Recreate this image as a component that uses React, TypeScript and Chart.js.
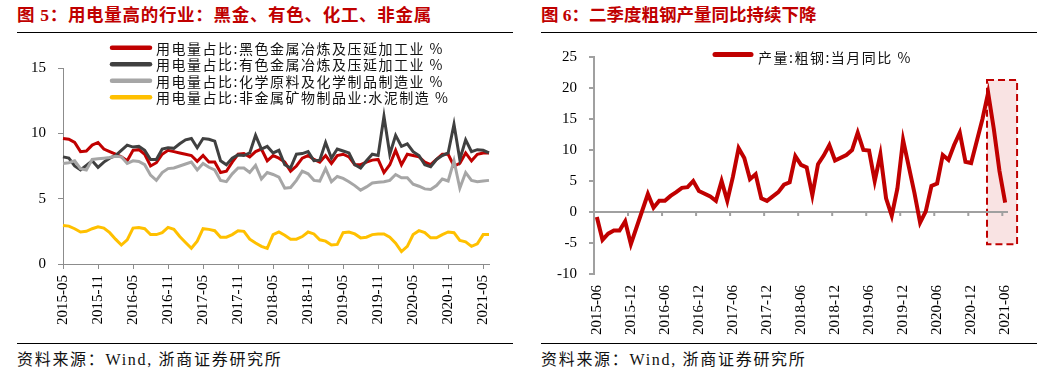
import React, { useEffect, useRef } from "react";
import { Chart, registerables } from "chart.js";

Chart.register(...registerables);

// ---------- data ----------
function monthRange(startYear: number, startMonth: number, count: number): string[] {
  const out: string[] = [];
  for (let k = 0; k < count; k++) {
    const m0 = startMonth - 1 + k;
    const y = startYear + Math.floor(m0 / 12);
    const m = (m0 % 12) + 1;
    out.push(`${y}-${m < 10 ? "0" + m : m}`);
  }
  return out;
}

const powerMonths = monthRange(2015, 5, 74); // 2015-05 .. 2021-06
const steelMonths = monthRange(2015, 6, 73); // 2015-06 .. 2021-06

const powerSeriesNames = [
  "用电量占比:黑色金属冶炼及压延加工业 %",
  "用电量占比:有色金属冶炼及压延加工业 %",
  "用电量占比:化学原料及化学制品制造业 %",
  "用电量占比:非金属矿物制品业:水泥制造 %",
];
const steelSeriesName = "产量:粗钢:当月同比 %";

const ferrousShare = [
  9.6, 9.55, 9.3, 8.6, 8.65, 9.1, 9.3, 8.8, 8.6, 8.4,
  8.2, 7.9, 8.7, 8.75, 8.4, 7.5, 7.75, 8.4, 8.7, 8.6,
  8.5, 8.4, 8.3, 7.85, 8.3, 7.8, 7.8, 7.0, 7.1, 7.8,
  8.4, 8.45, 8.2, 8.6, 8.8, 7.9, 8.3, 8.1, 7.8, 7.1,
  7.5, 8.1, 8.3, 8.0, 7.8, 8.3, 7.7, 8.3, 8.4, 8.2,
  7.6, 7.6, 7.8, 7.95, 8.0, 7.0, 7.6, 8.7, 7.6, 8.4,
  8.3, 8.2, 7.8, 7.6, 8.0, 8.4, 8.4, 7.5, 7.7, 8.5,
  7.9, 8.4, 8.5, 8.5,
];
const nonferrousShare = [
  8.2, 8.1, 7.5, 7.2, 7.55, 7.9, 7.4, 7.8, 8.1, 8.3,
  8.7, 9.1, 8.95, 9.0, 8.7, 8.0, 8.0, 8.8, 8.9, 8.85,
  9.2, 9.5, 9.6, 8.9, 9.6, 9.55, 9.4, 7.9, 7.6, 8.1,
  8.35, 8.3, 8.5, 9.85, 8.8, 9.0, 8.5, 8.7, 7.6, 7.35,
  8.4, 8.45, 8.6, 7.9, 7.95, 9.3, 8.1, 8.8, 8.65, 8.5,
  7.6, 7.35, 7.9, 8.4, 8.3, 11.3, 8.4, 9.85, 9.0, 9.2,
  8.6, 8.3, 7.6, 7.45, 8.0, 8.3, 8.5, 10.7, 8.0, 9.5,
  8.6, 8.75, 8.7, 8.5,
];
const chemicalShare = [
  7.7, 7.75, 7.9, 7.3, 7.2, 8.0, 8.05, 8.1, 8.15, 8.25,
  8.2, 7.7, 7.9, 7.85, 7.6, 6.8, 6.4, 7.0, 7.3, 7.35,
  7.5, 7.65, 7.8, 7.2, 7.7, 7.4, 7.2, 6.4, 6.3, 6.9,
  7.35, 7.35, 7.0, 7.55, 6.5, 7.0, 6.85, 6.65, 5.8, 5.85,
  6.4, 7.1, 6.9, 6.4, 6.35, 7.3, 6.3, 6.7, 6.55, 6.3,
  6.0, 5.65, 5.9, 6.2, 6.25, 6.3, 6.4, 6.85, 6.6, 6.6,
  6.1, 5.95, 5.75, 5.7, 6.0, 6.5, 6.35, 7.9, 5.8, 7.0,
  6.4, 6.3, 6.35, 6.4,
];
const cementShare = [
  2.95, 2.9, 2.7, 2.45, 2.5, 2.7, 2.85, 2.75, 2.4, 1.9,
  1.45, 1.85, 2.75, 2.8, 2.7, 2.25, 2.25, 2.4, 2.8, 2.65,
  2.1, 1.65, 1.2, 1.75, 2.7, 2.65, 2.55, 2.05, 2.05, 2.25,
  2.55, 2.5, 1.9, 1.6, 1.35, 1.2, 2.25, 2.45, 2.2, 1.9,
  1.9, 2.1, 2.45, 2.3, 1.85, 1.75, 1.45, 1.5, 2.4, 2.45,
  2.3, 2.0, 2.05, 2.25, 2.3, 2.3, 2.05, 1.6, 0.95, 1.35,
  2.25, 2.55, 2.4, 2.0, 2.0, 2.25, 2.45, 2.4, 1.8, 1.7,
  1.35, 1.55, 2.25, 2.25,
];
const steelYoY: (number | null)[] = [
  -0.8, -4.5, -3.5, -3.0, -3.0, -1.5, -5.2, null, null, 2.9,
  0.7, 1.8, 1.8, 2.6, 3.2, 3.9, 4.0, 5.0, 3.4, null,
  2.5, 1.8, 5.0, 1.8, 5.7, 10.3, 8.7, 5.3, 6.1, 2.2,
  1.8, null, 3.2, 4.4, 4.8, 9.0, 7.6, 7.2, 2.7, 7.7,
  9.1, 10.8, 8.3, null, 9.2, 10.0, 12.8, 10.0, 9.9, 5.0,
  9.3, 2.2, -0.6, 3.8, 11.6, null, 3.1, -1.7, 0.1, 4.2,
  4.6, 9.2, 8.4, 10.8, 12.8, 8.1, 7.9, null, 15.0, 19.2,
  13.4, 6.6, 1.5,
];

// highlighted region (category index range, value range)
const highlightIdx = [68.8, 74.1];
const highlightVal = [21.3, -5.2];

const seriesColors = ["#C00000", "#404040", "#A6A6A6", "#FFC000"];
const axisGray = "#8C8C8C";
const titleRed = "#C00000";
const serif = '"Liberation Serif", "Times New Roman", serif';
const cjk = '"Noto Sans CJK SC", sans-serif';

// ---------- plugins ----------
const listLegend = {
  id: "listLegend",
  afterDraw(chart: any, _a: any, opts: any) {
    const ctx = chart.ctx as CanvasRenderingContext2D;
    ctx.save();
    ctx.font = `${opts.fontSize}px ${cjk}`;
    (ctx as any).letterSpacing = opts.letterSpacing;
    ctx.textBaseline = "middle";
    ctx.textAlign = "left";
    chart.data.datasets.forEach((ds: any, i: number) => {
      const y = opts.y + i * opts.rowHeight;
      ctx.strokeStyle = ds.borderColor;
      ctx.lineWidth = opts.lineWidth;
      ctx.lineCap = "round";
      ctx.beginPath();
      ctx.moveTo(opts.x, y);
      ctx.lineTo(opts.x + opts.lineLen, y);
      ctx.stroke();
      ctx.fillStyle = "#111";
      ctx.fillText(ds.label, opts.x + opts.lineLen + opts.gap, y + opts.textDy);
    });
    ctx.restore();
  },
};

const highlightBox = {
  id: "highlightBox",
  beforeDatasetsDraw(chart: any, _a: any, opts: any) {
    const { ctx, scales } = chart;
    const xs = scales.x;
    const ys = scales.y;
    const step = xs.getPixelForValue(1) - xs.getPixelForValue(0);
    const base = xs.getPixelForValue(0);
    const x0 = base + opts.idx[0] * step;
    const x1 = base + opts.idx[1] * step;
    const y0 = ys.getPixelForValue(opts.val[0]);
    const y1 = ys.getPixelForValue(opts.val[1]);
    ctx.save();
    ctx.fillStyle = "rgba(214, 60, 60, 0.14)";
    ctx.fillRect(x0, y0, x1 - x0, y1 - y0);
    ctx.setLineDash([7, 4]);
    ctx.strokeStyle = "#C00000";
    ctx.lineWidth = 2;
    ctx.strokeRect(x0, y0, x1 - x0, y1 - y0);
    ctx.restore();
  },
};

const zeroAxis = {
  id: "zeroAxis",
  beforeDatasetsDraw(chart: any, _a: any, opts: any) {
    const { ctx, chartArea, scales } = chart;
    const xs = scales.x;
    const y0 = scales.y.getPixelForValue(0);
    const step = xs.getPixelForValue(1) - xs.getPixelForValue(0);
    ctx.save();
    ctx.strokeStyle = opts.color;
    ctx.lineWidth = opts.width;
    ctx.beginPath();
    ctx.moveTo(chartArea.left, y0);
    ctx.lineTo(chartArea.right, y0);
    for (let i = opts.every; i < chart.data.labels.length; i += opts.every) {
      const px = xs.getPixelForValue(i) - step / 2;
      ctx.moveTo(px, y0);
      ctx.lineTo(px, y0 + opts.tickLength);
    }
    ctx.stroke();
    ctx.restore();
  },
};

// ---------- charts ----------
function makePowerConfig(): any {
  const series = [ferrousShare, nonferrousShare, chemicalShare, cementShare];
  return {
    type: "line",
    data: {
      labels: powerMonths,
      datasets: series.map((d, i) => ({
        label: powerSeriesNames[i],
        data: d,
        borderColor: seriesColors[i],
        backgroundColor: seriesColors[i],
        borderWidth: 3,
        pointRadius: 0,
        tension: 0,
        fill: false,
        order: 4 - i,
      })),
    },
    options: {
      responsive: false,
      animation: false,
      layout: { padding: { top: 32, right: 4, left: 0, bottom: 0 } },
      plugins: {
        legend: { display: false },
        tooltip: { enabled: false },
        listLegend: { x: 95, y: 11.7, rowHeight: 16.5, lineLen: 38, lineWidth: 4.5, gap: 6, fontSize: 14, letterSpacing: "1.5px", textDy: 0.5 },
      },
      scales: {
        x: {
          type: "category",
          offset: false,
          grid: {
            display: true,
            drawOnChartArea: false,
            drawTicks: true,
            tickLength: 5,
            color: (c: any) => (c.index % 6 === 0 ? axisGray : "rgba(0,0,0,0)"),
            tickColor: (c: any) => (c.index % 6 === 0 ? axisGray : "rgba(0,0,0,0)"),
          },
          border: { display: true, color: axisGray, width: 1 },
          ticks: {
            autoSkip: false,
            maxRotation: 90,
            minRotation: 90,
            padding: 6,
            color: "#000",
            font: { family: serif, size: 15 },
            callback: (_v: any, i: number) => (i % 6 === 0 ? powerMonths[i] : ""),
          },
          afterFit: (s: any) => {
            s.height = 77;
          },
        },
        y: {
          min: 0,
          max: 15,
          ticks: { stepSize: 5, padding: 12, color: "#000", font: { family: serif, size: 15 } },
          grid: { display: true, drawOnChartArea: false, drawTicks: true, tickLength: 5, color: axisGray },
          border: { display: true, color: axisGray, width: 1 },
          afterFit: (s: any) => {
            s.width = 46;
          },
        },
      },
    },
    plugins: [listLegend],
  };
}

function makeSteelConfig(): any {
  return {
    type: "line",
    data: {
      labels: steelMonths,
      datasets: [
        {
          label: steelSeriesName,
          data: steelYoY,
          borderColor: "#C00000",
          backgroundColor: "#C00000",
          borderWidth: 4,
          pointRadius: 0,
          tension: 0,
          fill: false,
          spanGaps: true,
        },
      ],
    },
    options: {
      responsive: false,
      animation: false,
      layout: { padding: { top: 16, right: 29, left: 0, bottom: 0 } },
      plugins: {
        legend: { display: false },
        tooltip: { enabled: false },
        listLegend: { x: 174, y: 18.5, rowHeight: 16.5, lineLen: 36, lineWidth: 5, gap: 7, fontSize: 14, letterSpacing: "1.5px", textDy: 3 },
        highlightBox: { idx: highlightIdx, val: highlightVal },
        zeroAxis: { color: "#A0A0A0", width: 2, every: 6, tickLength: 4 },
      },
      scales: {
        x: {
          type: "category",
          offset: true,
          grid: { display: false },
          border: { display: false },
          ticks: {
            autoSkip: false,
            maxRotation: 90,
            minRotation: 90,
            padding: 3,
            color: "#000",
            font: { family: serif, size: 15 },
            callback: (_v: any, i: number) => (i % 6 === 0 ? steelMonths[i] : ""),
          },
          afterFit: (s: any) => {
            s.height = 67;
          },
        },
        y: {
          min: -10,
          max: 25,
          ticks: { stepSize: 5, padding: 12, color: "#000", font: { family: serif, size: 15 } },
          grid: { display: true, drawOnChartArea: false, drawTicks: true, tickLength: 5, color: "#A0A0A0", lineWidth: 2 },
          border: { display: true, color: "#A0A0A0", width: 2 },
          afterFit: (s: any) => {
            s.width = 53;
          },
        },
      },
    },
    plugins: [highlightBox, zeroAxis, listLegend],
  };
}

function ChartCanvas(props: { left: number; top: number; width: number; height: number; make: () => any }) {
  const ref = useRef<HTMLCanvasElement | null>(null);
  useEffect(() => {
    if (!ref.current) return;
    const chart = new Chart(ref.current, props.make());
    return () => chart.destroy();
  }, []);
  return (
    <canvas
      ref={ref}
      width={props.width}
      height={props.height}
      style={{ position: "absolute", left: props.left, top: props.top, width: props.width, height: props.height }}
    />
  );
}

const titleStyle: React.CSSProperties = {
  position: "absolute",
  top: 5,
  fontFamily: `"Liberation Serif", ${cjk}`,
  fontWeight: 700,
  fontSize: 17.5,
  lineHeight: "20px",
  color: titleRed,
  whiteSpace: "nowrap",
};
const sourceStyle: React.CSSProperties = {
  position: "absolute",
  top: 350,
  fontFamily: `"Liberation Serif", ${cjk}`,
  fontSize: 16,
  letterSpacing: "1.7px",
  lineHeight: "20px",
  color: "#111",
  whiteSpace: "nowrap",
};
const rule = (left: number, top: number): React.CSSProperties => ({
  position: "absolute",
  left,
  top,
  width: 496,
  height: 0,
  borderTop: "1.5px solid #000",
});

export default function App() {
  return (
    <div style={{ position: "fixed", left: 0, top: 0, width: 1047, height: 379, background: "#fff", overflow: "hidden" }}>
      <div style={{ ...titleStyle, left: 17, letterSpacing: "0.7px" }}>图 5：用电量高的行业：黑金、有色、化工、非金属</div>
      <div style={{ ...titleStyle, left: 541 }}>图 6：二季度粗钢产量同比持续下降</div>
      <div style={rule(17, 31.5)} />
      <div style={rule(541, 31.5)} />
      <ChartCanvas left={17} top={36} width={496} height={305} make={makePowerConfig} />
      <ChartCanvas left={541} top={36} width={496} height={305} make={makeSteelConfig} />
      <div style={rule(17, 343)} />
      <div style={rule(541, 342.5)} />
      <div style={{ ...sourceStyle, left: 17 }}>资料来源：Wind, 浙商证券研究所</div>
      <div style={{ ...sourceStyle, left: 541 }}>资料来源：Wind, 浙商证券研究所</div>
    </div>
  );
}
